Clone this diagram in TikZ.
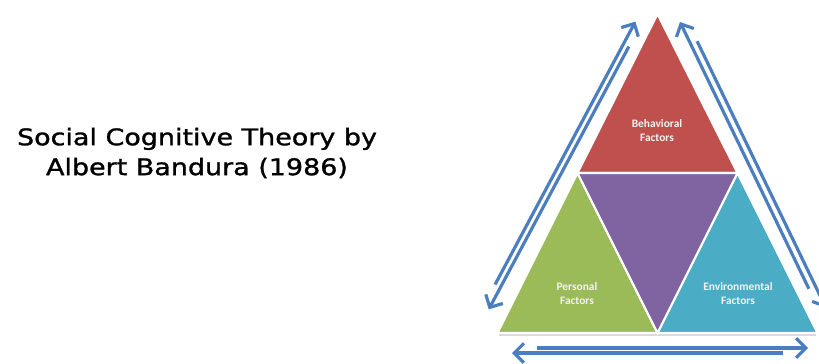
\documentclass[tikz,border=0pt]{standalone}
\usepackage{fontspec}
\setmainfont{DejaVu Sans}
\newfontfamily\titlefont[FakeStretch=1.18,FakeBold=1.3]{DejaVu Sans}
\newfontfamily\labelfont{Carlito}
\usetikzlibrary{arrows.meta}

\definecolor{behavred}{HTML}{C0504D}
\definecolor{persgreen}{HTML}{9BBB59}
\definecolor{envblue}{HTML}{4BACC6}
\definecolor{midpurple}{HTML}{8064A2}
\definecolor{arrowblue}{HTML}{4A7EBF}

\tikzset{
  part/.style={draw=white, line width=1.2pt},
  factor/.style={text=white!95!black, align=center,
    font=\labelfont\bfseries\fontsize{6.5}{8}\selectfont},
  twoway/.style={arrowblue, line width=1.8pt,
    -{Straight Barb[length=5.5pt,width=11pt]}},
}

\begin{document}
\begin{tikzpicture}[x=0.02cm, y=0.02cm]
    \useasboundingbox (0,0) rectangle (819,363);
    % Title
    \node[align=center, font=\titlefont\fontsize{13}{17}\selectfont] (title) at (197,210)
      {Social Cognitive Theory by\\Albert Bandura (1986)};
    % Corners of the big triangle
    \coordinate (apex) at (657.5,349);
    \coordinate (midL) at (577.5,190);
    \coordinate (midR) at (737.5,190);
    \coordinate (botL) at (497.5,30);
    \coordinate (botM) at (657.5,30);
    \coordinate (botR) at (817.5,30);
    % Shadow under the base
    \draw[gray!30, line width=1pt] (499,28) -- (816,28);
    % Part 1: Behavioral (top)
    \draw[part, fill=behavred] (apex) -- (midL) -- (midR) -- cycle;
    % Part 2: Personal (left)
    \draw[part, fill=persgreen] (midL) -- (botL) -- (botM) -- cycle;
    % Part 3: Environmental (right)
    \draw[part, fill=envblue] (midR) -- (botM) -- (botR) -- cycle;
    % Part 4: middle
    \draw[part, fill=midpurple] (midL) -- (midR) -- (botM) -- cycle;
    % Labels
    \node[factor] (behav) at (657,232) {Behavioral\\Factors};
    \node[factor] (pers) at (577,69) {Personal\\Factors};
    \node[factor] (envir) at (738,69) {Environmental\\Factors};
    % Arrow ends, left side
    \coordinate (lUpS) at (495.1,78.5);
    \coordinate (lUpE) at (635.4,341.4);
    \coordinate (lDnS) at (628.9,316.5);
    \coordinate (lDnE) at (488.7,53.6);
    % Arrow ends, right side
    \coordinate (rUpS) at (808.9,74.2);
    \coordinate (rUpE) at (680,341);
    \coordinate (rDnS) at (697.1,321.8);
    \coordinate (rDnE) at (826,55);
    % Arrow ends, base
    \coordinate (bRtS) at (537,15);
    \coordinate (bRtE) at (808,15);
    \coordinate (bLtS) at (783,10);
    \coordinate (bLtE) at (512,10);
    % Two-way arrows
    \draw[twoway] (lUpS) -- (lUpE);
    \draw[twoway] (lDnS) -- (lDnE);
    \draw[twoway] (rUpS) -- (rUpE);
    \draw[twoway] (rDnS) -- (rDnE);
    \draw[twoway] (bRtS) -- (bRtE);
    \draw[twoway] (bLtS) -- (bLtE);
  \end{tikzpicture}
\end{document}
